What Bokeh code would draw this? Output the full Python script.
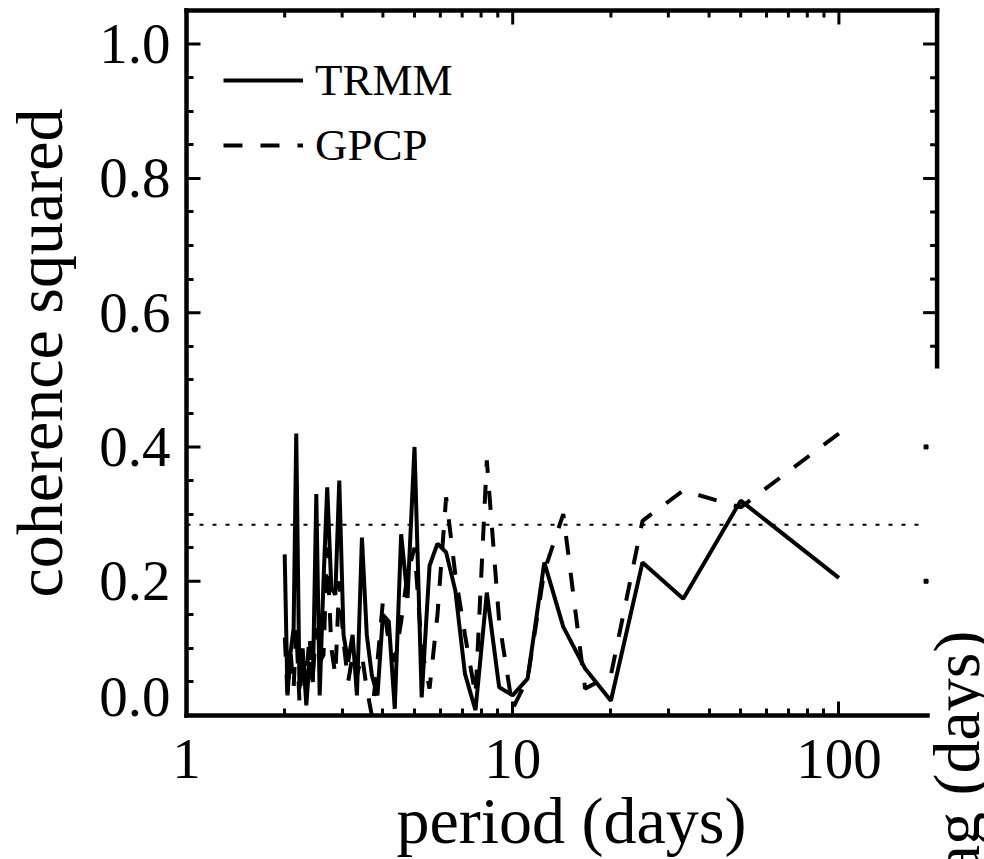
import math
from bokeh.plotting import figure
from bokeh.models import (Range1d, FixedTicker, PrintfTickFormatter, Label,
                          Legend, LegendItem)
from bokeh.embed import file_html
from bokeh.resources import INLINE

# ---------------- data ----------------
period_days = [100, 50, 33.33, 25, 20, 16.67, 14.29, 12.5, 11.11, 10,
               9.09, 8.33, 7.69, 7.14, 6.67, 6.25, 5.88, 5.56, 5.26, 5.0,
               4.76, 4.55, 4.35, 4.17, 4.0, 3.85, 3.70, 3.57, 3.45, 3.33,
               3.23, 3.13, 3.03, 2.94, 2.86, 2.78, 2.70, 2.63, 2.56, 2.50,
               2.44, 2.38, 2.33, 2.27, 2.22, 2.17, 2.13, 2.08, 2.04, 2.0]

trmm_coh = [0.205, 0.32, 0.174, 0.228, 0.022, 0.07, 0.132, 0.228, 0.055, 0.03,
            0.042, 0.183, 0.008, 0.062, 0.186, 0.243, 0.256, 0.223, 0.027, 0.40,
            0.175, 0.27, 0.01, 0.14, 0.15, 0.03, 0.06, 0.12, 0.265, 0.03,
            0.12, 0.08, 0.12, 0.35, 0.18, 0.19, 0.34, 0.20, 0.03, 0.33,
            0.05, 0.08, 0.015, 0.10, 0.04, 0.42, 0.13, 0.09, 0.03, 0.24]

gpcp_coh = [0.42, 0.31, 0.335, 0.29, 0.06, 0.04, 0.30, 0.215, 0.055, 0.01,
            0.14, 0.38, 0.03, 0.12, 0.21, 0.325, 0.15, 0.04, 0.10, 0.25,
            0.21, 0.14, 0.08, 0.11, 0.17, 0.08, -0.005, 0.04, 0.09, 0.06,
            0.09, 0.05, 0.11, 0.20, 0.06, 0.10, 0.25, 0.09, 0.08, 0.13,
            0.06, 0.12, 0.05, 0.09, 0.02, 0.13, 0.04, 0.10, 0.03, 0.12]

significance_level = 0.284
significance_x_extent = [1, 176]

x_tick_values = [1, 10, 100]
x_tick_labels = ["1", "10", "100"]
x_minor_ticks = [2, 3, 4, 5, 6, 7, 8, 9, 20, 30, 40, 50, 60, 70, 80, 90]
# the "0.0" label sits a little above the bottom axis in the original
y_label_positions = [0.027, 0.2, 0.4, 0.6, 0.8, 1.0]
y_major_ticks = [0.2, 0.4, 0.6, 0.8, 1.0]
y_minor_ticks = [0.05, 0.1, 0.15, 0.25, 0.3, 0.35, 0.45, 0.5, 0.55,
                 0.65, 0.7, 0.75, 0.85, 0.9, 0.95]
right_tick_values = [0.6, 0.8, 1.0]
right_minor_ticks = [0.55, 0.65, 0.7, 0.75, 0.85, 0.9, 0.95]
right_axis_bottom = 0.52
neighbor_marks_x = [185, 185]
neighbor_marks_y = [0.2, 0.4]

x_title = "period (days)"
y_title = "coherence squared"
neighbor_title = "lag (days)"

FONT = "Liberation Serif"
# plotted box: period 1..200, coherence 0..1.05, with its corner (1, 0) at
# pixel (186, 715); the frame fills the whole window so that the axes sit at
# fixed locations and the titles (some cut off by the window) are not clipped
XB0, XB1 = 1, 200
YB0, YB1 = 0, 1.05
W, H = 984, 859
ORIGIN_X, ORIGIN_Y = 186, 715          # pixel of (1, 0), from top-left
decade_px = 326.2
unit_px = 671.4
X0 = XB0 * 10 ** (-ORIGIN_X / decade_px)
X1 = XB0 * 10 ** ((W - ORIGIN_X) / decade_px)
Y0 = YB0 - (H - ORIGIN_Y) / unit_px
Y1 = YB0 + ORIGIN_Y / unit_px

p = figure(width=W, height=H, x_axis_type="log",
           x_range=Range1d(X0, X1), y_range=Range1d(Y0, Y1),
           output_backend="svg", toolbar_location=None,
           min_border_left=0, min_border_right=0,
           min_border_top=0, min_border_bottom=0)
p.outline_line_color = None
p.grid.visible = False
p.background_fill_color = "white"
p.border_fill_color = "white"

def xdata(dx_px, base=XB0):
    return base * 10 ** (dx_px / decade_px)

def ydata(dy_px, base=YB0):
    return base + dy_px / unit_px

def style_axis(ax):
    ax.axis_line_width = 4.5
    ax.axis_line_color = "black"
    ax.axis_line_cap = "square"
    ax.major_tick_in = 14
    ax.major_tick_out = 0
    ax.minor_tick_in = 7
    ax.minor_tick_out = 0
    ax.major_tick_line_width = 3
    ax.minor_tick_line_width = 3
    ax.major_tick_line_color = "black"
    ax.minor_tick_line_color = "black"
    ax.major_label_text_font = FONT
    ax.major_label_text_color = "black"
    ax.major_label_text_font_size = "57px"

# bottom axis, fixed at coherence = 0
xb = p.xaxis[0]
style_axis(xb)
xb.ticker = FixedTicker(ticks=x_tick_values, minor_ticks=x_minor_ticks)
xb.formatter = PrintfTickFormatter(format="%d")
xb.major_label_overrides = {v: s for v, s in zip(x_tick_values, x_tick_labels)}
xb.major_label_standoff = 24
xb.bounds = (1, 187)
xb.fixed_location = YB0

# left axis, fixed at period = 1 (major ticks drawn as segments so that the
# 0.0 label can sit a little higher, as in the original)
yl = p.yaxis[0]
style_axis(yl)
yl.ticker = FixedTicker(ticks=y_label_positions, minor_ticks=y_minor_ticks)
yl.formatter = PrintfTickFormatter(format="%.1f")
yl.major_tick_in = 0
yl.major_label_standoff = 16
yl.bounds = (YB0, YB1)
yl.fixed_location = XB0

p.segment(x0=[XB0] * len(y_major_ticks), y0=y_major_ticks,
          x1=[xdata(14)] * len(y_major_ticks), y1=y_major_ticks,
          line_color="black", line_width=3)

# top axis (drawn as segments, through the scales)
p.segment(x0=[XB0], y0=[YB1], x1=[XB1], y1=[YB1], line_color="black",
          line_width=4.5, line_cap="square")
p.segment(x0=x_tick_values, y0=[YB1] * 3, x1=x_tick_values,
          y1=[ydata(-14, YB1)] * 3, line_color="black", line_width=3)
p.segment(x0=x_minor_ticks, y0=[YB1] * len(x_minor_ticks), x1=x_minor_ticks,
          y1=[ydata(-7, YB1)] * len(x_minor_ticks), line_color="black", line_width=3)

# right axis (partially visible, as segments)
p.segment(x0=[XB1], y0=[right_axis_bottom], x1=[XB1], y1=[YB1],
          line_color="black", line_width=4.5, line_cap="square")
p.segment(x0=[XB1] * 3, y0=right_tick_values, x1=[xdata(-14, XB1)] * 3, y1=right_tick_values,
          line_color="black", line_width=3)
p.segment(x0=[XB1] * len(right_minor_ticks), y0=right_minor_ticks,
          x1=[xdata(-7, XB1)] * len(right_minor_ticks), y1=right_minor_ticks,
          line_color="black", line_width=3)

# data (kept inside the plotted box)
r_trmm = p.line(period_days, [max(v, YB0) for v in trmm_coh], line_color="black",
                line_width=4)
r_gpcp = p.line(period_days, [max(v, YB0) for v in gpcp_coh], line_color="black",
                line_width=4, line_dash="19 18")
p.line(significance_x_extent, [significance_level] * 2, line_color="black",
       line_width=2, line_dash="4 9")
p.scatter(neighbor_marks_x, neighbor_marks_y, marker="square", size=4,
          color="black")

legend = Legend(items=[LegendItem(label="TRMM", renderers=[r_trmm]),
                       LegendItem(label="GPCP", renderers=[r_gpcp])],
                location=(223, 688), glyph_width=80, glyph_height=40,
                label_text_font=FONT, label_text_font_size="45px",
                label_text_color="black",
                label_standoff=12, spacing=13, padding=0, margin=0,
                border_line_color=None, background_fill_alpha=0)
p.add_layout(legend)

# titles
p.add_layout(Label(x=xdata(385), y=ydata(-104.7), text=x_title,
                   text_font=FONT, text_font_size="66px", text_color="black",
                   text_align="center", text_baseline="middle"))
p.add_layout(Label(x=xdata(769.7), y=ydata(-46), text=neighbor_title,
                   text_font=FONT, text_font_size="66px", text_color="black",
                   angle=math.pi / 2, text_align="center",
                   text_baseline="middle"))
p.add_layout(Label(x=xdata(-147), y=ydata(362.5), text=y_title,
                   text_font=FONT, text_font_size="66px", text_color="black",
                   angle=math.pi / 2, text_align="center",
                   text_baseline="middle"))

open("out.html", "w").write(file_html(p, INLINE))
